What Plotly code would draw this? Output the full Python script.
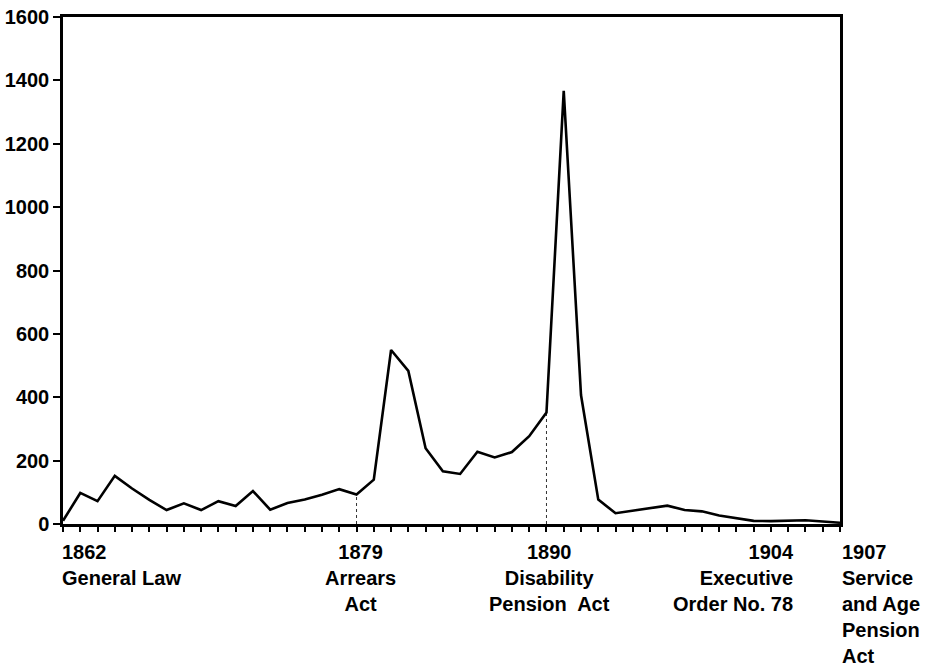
import plotly.graph_objects as go

# Years and values
years = list(range(1862, 1908))
values = [10, 98, 72, 152, 112, 76, 44, 65, 44, 72,
          57, 104, 45, 66, 77, 92, 110, 93, 140, 549,
          483, 239, 166, 158, 228, 210, 227, 277, 352, 1367,
          407, 77, 34, 42, 49, 58, 44, 40, 27, 18,
          10, 9, 10, 12, 8, 4]

# Legislation markers along the time axis
event_years = [1862, 1879, 1890, 1904, 1907]
event_labels = ['1862<br>General Law',
                '1879<br>Arrears<br>Act',
                '1890<br>Disability<br>Pension  Act',
                '1904<br>Executive<br>Order No. 78',
                '1907<br>Service<br>and Age<br>Pension<br>Act']
event_align = ['left', 'center', 'center', 'right', 'left']
event_shift = [-3, 4, 3, 8, 0]

y_ticks = [0, 200, 400, 600, 800, 1000, 1200, 1400, 1600]

font = dict(family='Liberation Sans, Arial, sans-serif', size=20, color='black',
            weight='bold')

fig = go.Figure()

# Thin drop lines at the inner event years
for yr in event_years[1:3]:
    v = values[years.index(yr)]
    fig.add_trace(go.Scatter(x=[yr, yr], y=[0, v], mode='lines',
                             line=dict(color='#333333', width=1, dash='dot'),
                             hoverinfo='skip', showlegend=False))

fig.add_trace(go.Scatter(x=years, y=values, mode='lines',
                         line=dict(color='black', width=2.6),
                         showlegend=False))

for yr, txt, al, sh in zip(event_years, event_labels, event_align, event_shift):
    fig.add_annotation(x=yr, y=0, xref='x', yref='y', text=txt,
                       showarrow=False, xanchor=al, yanchor='top', align=al,
                       yshift=-15, xshift=sh, font=font)

fig.update_xaxes(range=[1862, 1907], tickvals=years, ticks='outside', ticklen=5,
                 tickwidth=2, tickcolor='black', showticklabels=False,
                 showline=True, linecolor='black', linewidth=2.5, mirror=True,
                 showgrid=False, zeroline=False, automargin=False)
fig.update_yaxes(range=[0, 1600], tickvals=y_ticks, ticks='outside', ticklen=7,
                 tickwidth=1.5, tickcolor='black', tickfont=font,
                 showline=True, linecolor='black', linewidth=2.5, mirror=True,
                 showgrid=False, zeroline=False, automargin=False)

fig.update_layout(width=929, height=666, plot_bgcolor='white', paper_bgcolor='white',
                  margin=dict(l=63, r=89, t=17, b=142), font=font)

# drop the default page margin so the figure sits at the top-left corner
fig.write_html('out.html', config={'displayModeBar': False},
               post_script="document.body.style.margin='0px';")
